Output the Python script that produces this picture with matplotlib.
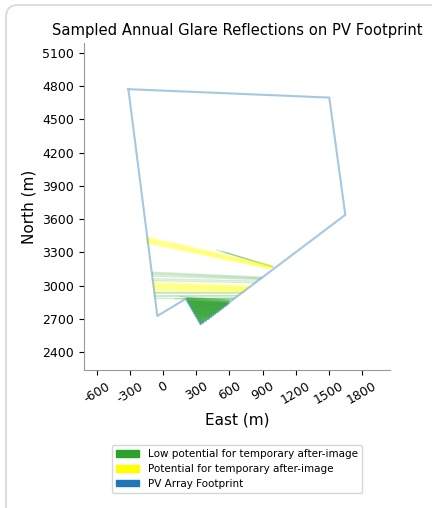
import matplotlib
matplotlib.use('Agg')
import matplotlib.pyplot as plt
from matplotlib.collections import LineCollection
from matplotlib.lines import Line2D
from matplotlib.patches import Patch

plt.rcParams['axes.unicode_minus'] = False

# PV footprint outline (East, North in m)
fp_x = [-316, 1504, 1649, 339, 206, -54, -316]
fp_y = [4773, 4697, 3638, 2653, 2881, 2725, 4773]

# glare reflection segments: (x0, y0, x1, y1)
yellow_segs = [
    (-150, 3435, 995, 3174), (-151, 3425, 990, 3170), (-152, 3415, 985, 3166),
    (-153, 3405, 980, 3162), (-154, 3395, 975, 3158), (-155, 3385, 970, 3154),
    (-93, 3025, 790, 2990), (-92, 3015, 780, 2985), (-91, 3005, 770, 2978),
    (-90, 2995, 760, 2972), (-89, 2985, 750, 2965), (-88, 2975, 740, 2960),
    (-87, 2965, 730, 2952), (-86, 2955, 720, 2945),
]
green_segs = [
    (480, 3322, 1000, 3170), (520, 3310, 995, 3168), (560, 3300, 990, 3165),
    (-103, 3120, 900, 3075), (-102, 3110, 890, 3068), (-101, 3100, 880, 3062),
    (-99, 3085, 870, 3055), (-97, 3060, 850, 3040), (-95, 3045, 830, 3025),
    (-84, 2945, 720, 2945), (-83, 2932, 700, 2930), (-81, 2915, 680, 2915),
    (-80, 2900, 660, 2905), (-79, 2890, 640, 2890), (100, 2880, 620, 2875),
    (150, 2900, 610, 2865), (200, 2885, 630, 2880), (210, 2878, 650, 2890),
]
dark_segs = [
    (212, 2872, 600, 2850), (220, 2858, 585, 2838), (229, 2843, 570, 2826),
    (238, 2827, 552, 2812), (247, 2812, 535, 2799), (256, 2796, 517, 2786),
    (265, 2781, 500, 2772), (274, 2765, 480, 2757), (283, 2750, 460, 2742),
    (292, 2735, 440, 2727), (302, 2718, 420, 2712), (312, 2700, 395, 2695),
    (322, 2683, 370, 2677), (332, 2666, 350, 2662),
]

xticks = [-600, -300, 0, 300, 600, 900, 1200, 1500, 1800]
yticks = [2400, 2700, 3000, 3300, 3600, 3900, 4200, 4500, 4800, 5100]

fig = plt.figure(figsize=(4.32, 5.08), dpi=100)
# card frame (left and top edges, rounded corner), in pixels
W, H = 432, 508
fx = [6, 6, 7, 9, 12, 16, 432]
fy = [508, 16, 11, 8, 6, 5, 5]
fig.add_artist(Line2D([v / W for v in fx], [1 - v / H for v in fy],
                      transform=fig.transFigure, color='#dddddd', lw=1.5))

ax = fig.add_axes([84 / W, 1 - 370 / H, 306 / W, 327 / H])


def segs(lst):
    return [[(a, b), (c, d)] for a, b, c, d in lst]


ax.add_collection(LineCollection(segs(green_segs), colors='#2ca02c', linewidths=1.0, alpha=0.2))
ax.add_collection(LineCollection(segs(yellow_segs), colors='yellow', linewidths=1.8, alpha=0.22))
ax.add_collection(LineCollection(segs(dark_segs), colors='#2ca02c', linewidths=3.5, alpha=0.55))
ax.plot(fp_x, fp_y, color='#1f77b4', alpha=0.4, lw=1.5)

ax.set_xlim(-718, 2054)
ax.set_ylim(2237, 5190)
ax.set_xticks(xticks)
ax.set_yticks(yticks)
ax.tick_params(labelsize=9)
plt.setp(ax.get_xticklabels(), rotation=30)
for s in ['top', 'right']:
    ax.spines[s].set_visible(False)
for s in ['left', 'bottom']:
    ax.spines[s].set_color('#999999')
ax.set_xlabel('East (m)', fontsize=11)
ax.set_ylabel('North (m)', fontsize=11)
ax.set_title('Sampled Annual Glare Reflections on PV Footprint', fontsize=10.6, pad=6)

handles = [Patch(color='#2ca02c', label='Low potential for temporary after-image'),
           Patch(color='yellow', label='Potential for temporary after-image'),
           Patch(color='#1f77b4', label='PV Array Footprint')]
fig.legend(handles=handles, loc='center', bbox_to_anchor=(237 / W, 1 - 469 / H),
           fontsize=7.5, handlelength=2.2, handleheight=0.6, labelspacing=0.45)

fig.savefig('out.png', dpi=100)
